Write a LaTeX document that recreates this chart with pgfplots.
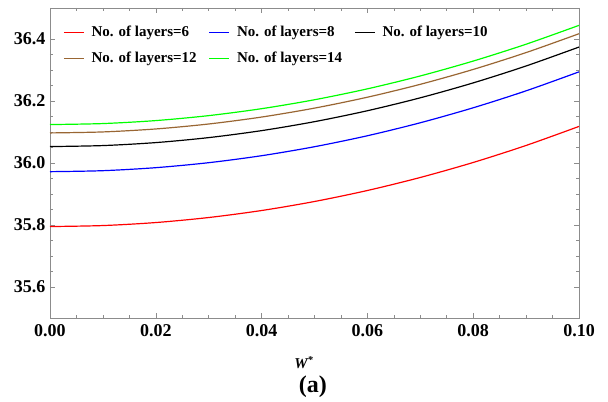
\documentclass[border=0pt]{standalone}
\usepackage{pgfplots}
\pgfplotsset{compat=1.18}
\usepackage{fontspec}
\setmainfont{Liberation Serif}
\definecolor{mbrown}{rgb}{0.6,0.4,0.2}
\definecolor{axgray}{rgb}{0.55,0.55,0.55}
\pgfplotsset{
  mylegline/.style={legend image code/.code={\draw[##1, line width=1.3pt] (0pt,0pt) -- (20pt,0pt);}},
}
\begin{document}
\begin{tikzpicture}
\begin{axis}[
  scale only axis, width=529pt, height=310pt,
  xmin=0, xmax=0.1, ymin=35.5, ymax=36.5,
  xtick={0,0.02,0.04,0.06,0.08,0.1},
  xticklabels={0.00,0.02,0.04,0.06,0.08,0.10},
  ytick={35.6,35.8,36.0,36.2,36.4},
  yticklabels={35.6,35.8,36.0,36.2,36.4},
  minor x tick num=3, minor y tick num=3,
  tick align=inside, major tick length=5pt, minor tick length=3pt,
  axis line style={axgray, line width=0.8pt},
  tick style={axgray, line width=0.6pt},
  tick label style={font=\fontsize{18}{18}\selectfont\bfseries},
  xticklabel style={yshift=-3pt},
  yticklabel style={xshift=-1pt},
  xlabel={W\textsuperscript{*}},
  xlabel style={at={(axis description cs:0.48,0)}, anchor=center, yshift=-45pt, font=\fontsize{15}{15}\selectfont\bfseries\itshape},
  legend columns=3,
  legend style={draw=none, fill=none, inner sep=0pt,
    at={(axis description cs:0.0246,0.945)}, anchor=north west,
    font=\fontsize{15}{15}\selectfont\bfseries,
    row sep=12pt,
    nodes={inner sep=1pt},
    /tikz/every odd column/.append style={column sep=6pt},
    /tikz/every even column/.append style={column sep=11pt}},
  legend cell align=left,
  mylegline,
  every axis plot/.append style={line width=1.2pt, smooth},
]
\addplot[red] coordinates {(0,35.795)(0.01,35.7982)(0.02,35.8079)(0.03,35.8241)(0.04,35.8467)(0.05,35.8758)(0.06,35.9113)(0.07,35.9533)(0.08,36.0017)(0.09,36.0566)(0.1,36.118)};
\addlegendentry{No. of layers=6}
\addplot[blue] coordinates {(0,35.972)(0.01,35.9752)(0.02,35.9849)(0.03,36.0010)(0.04,36.0235)(0.05,36.0525)(0.06,36.0879)(0.07,36.1298)(0.08,36.1781)(0.09,36.2328)(0.1,36.294)};
\addlegendentry{No. of layers=8}
\addplot[black] coordinates {(0,36.053)(0.01,36.0562)(0.02,36.0658)(0.03,36.0819)(0.04,36.1044)(0.05,36.1333)(0.06,36.1686)(0.07,36.2103)(0.08,36.2584)(0.09,36.3130)(0.1,36.374)};
\addlegendentry{No. of layers=10}
\addplot[mbrown] coordinates {(0,36.097)(0.01,36.1002)(0.02,36.1098)(0.03,36.1258)(0.04,36.1482)(0.05,36.177)(0.06,36.2122)(0.07,36.2538)(0.08,36.3018)(0.09,36.3562)(0.1,36.417)};
\addlegendentry{No. of layers=12}
\addplot[green] coordinates {(0,36.124)(0.01,36.1272)(0.02,36.1368)(0.03,36.1528)(0.04,36.1752)(0.05,36.204)(0.06,36.2392)(0.07,36.2808)(0.08,36.3288)(0.09,36.3832)(0.1,36.444)};
\addlegendentry{No. of layers=14}
\end{axis}
\node[font=\fontsize{24}{24}\selectfont\bfseries] at ([xshift=-1.6pt,yshift=-69pt]current axis.south) {(a)};
\path ([shift={(-50pt,-77pt)}]current axis.south west) rectangle ++(608pt,395pt);
\end{tikzpicture}
\end{document}
